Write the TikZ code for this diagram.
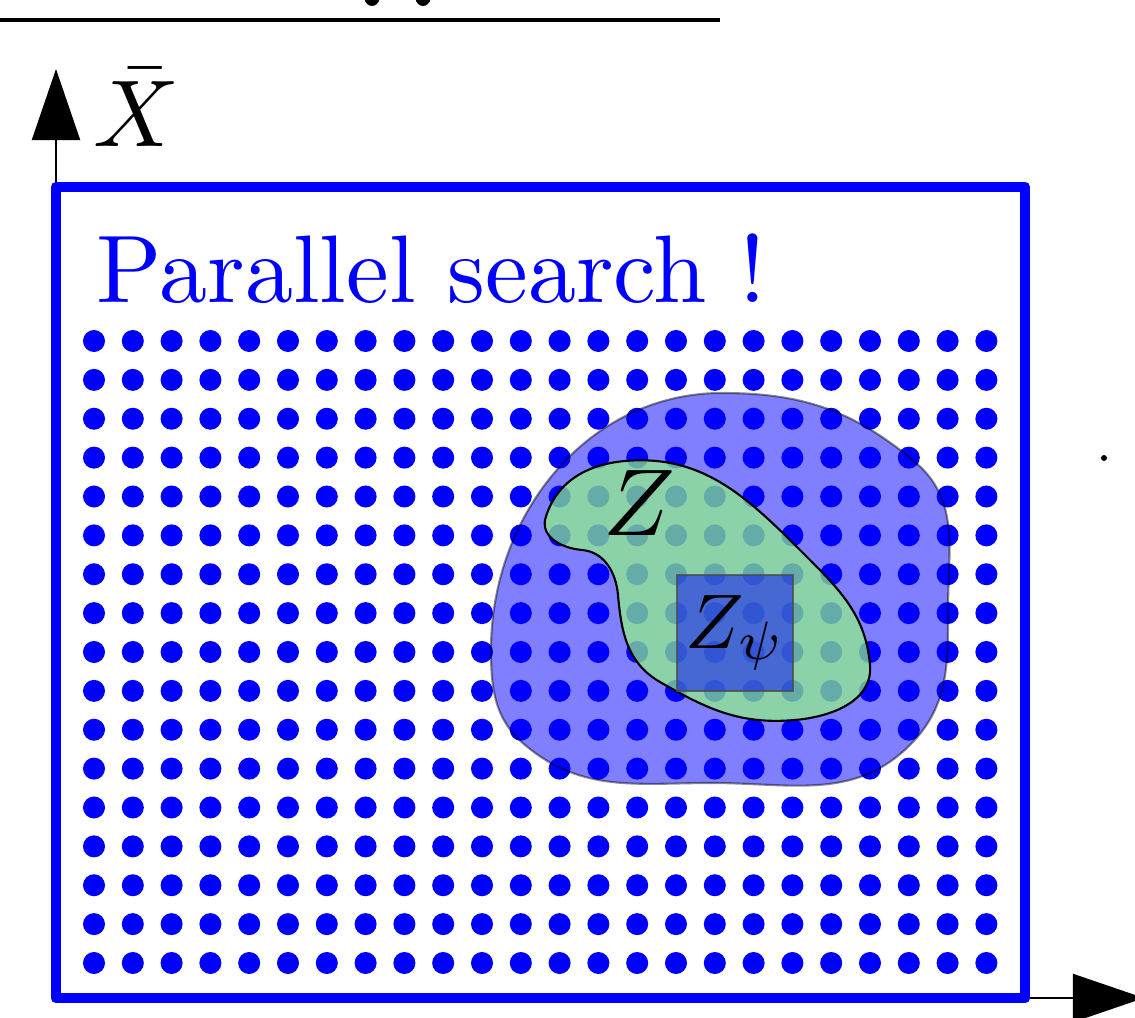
\RequirePackage{fix-cm}
\documentclass[tikz,border=0pt]{standalone}
\usepackage{fontspec}
\usepackage{amsmath,amssymb}
\usepackage{graphicx}
\usetikzlibrary{arrows.meta}
\definecolor{zgreen}{RGB}{145,246,132}
\newcommand{\bigtxt}[1]{\scalebox{2.7}{#1}}
\begin{document}
\begin{tikzpicture}[x=0.01cm,y=-0.01cm,>={Triangle[length=7.1mm,width=4.8mm]},
  griddot/.style={fill=blue}]
  \useasboundingbox (0,0) rectangle (1135,1018);
  % cut-off heading
  \draw[line width=1.15pt] (0,20) -- (720,20);
  \fill[rounded corners=2pt] (365,-5) rectangle (379,6);
  \fill[rounded corners=2pt] (416,-5) rectangle (430,6);
  % axes
  \coordinate (o) at (56,998);
  \coordinate (ytip) at (56,69);
  \coordinate (xtip) at (1144,998);
  \draw[->,line width=0.6pt] (o) -- (ytip);
  \draw[->,line width=0.6pt] (o) -- (xtip);
  \node[inner sep=0] (xbar) at (137,108) {\bigtxt{$\bar{X}$}};
  \fill (1104,458) circle (0.3mm);
  % search box
  \draw[blue,line width=3.1pt,line join=round] (56,187) rectangle (1025,998);
  \node[blue,anchor=base west,inner sep=0] (title) at (96,303) {\scalebox{2.73}{Parallel search !}};
  \foreach \i in {0,...,23}
    \foreach \j in {0,...,16}
      \fill[griddot] (94+38.8*\i,341+38.875*\j) circle (1.1mm);
  % reachable set
  \filldraw[fill=blue,fill opacity=0.5,draw=black,draw opacity=0.45,line width=0.6pt]
    (722,393) to[out=0,in=140] (915,462) to[out=-40,in=90] (948,610)
    to[out=-90,in=45] (910,745) to[out=-135,in=0] (712,783) to[out=180,in=-40] (525,745)
    to[out=140,in=-90] (491,650) to[out=90,in=180] cycle;
  % target set
  \filldraw[fill=zgreen,fill opacity=0.7,draw=black,line width=0.6pt]
    (545,520) to[out=75,in=185] (625,461) to[out=5,in=135] (805,555)
    to[out=-45,in=95] (870,665) to[out=-85,in=5] (795,720) to[out=185,in=-30] (660,682)
    to[out=150,in=-85] (618,595) to[out=95,in=-5] (582,550) to[out=175,in=-100] cycle;
  \node[anchor=base west,inner sep=0] (zlab) at (603,535) {\bigtxt{$Z$}};
  \node[draw=black!70,draw opacity=0.8,fill=blue,fill opacity=0.5,text opacity=1,
    minimum size=1.16cm,inner sep=0] (zpsi) at (735,633) {\scalebox{2.2}{$Z_\psi$}};
\end{tikzpicture}
\end{document}
